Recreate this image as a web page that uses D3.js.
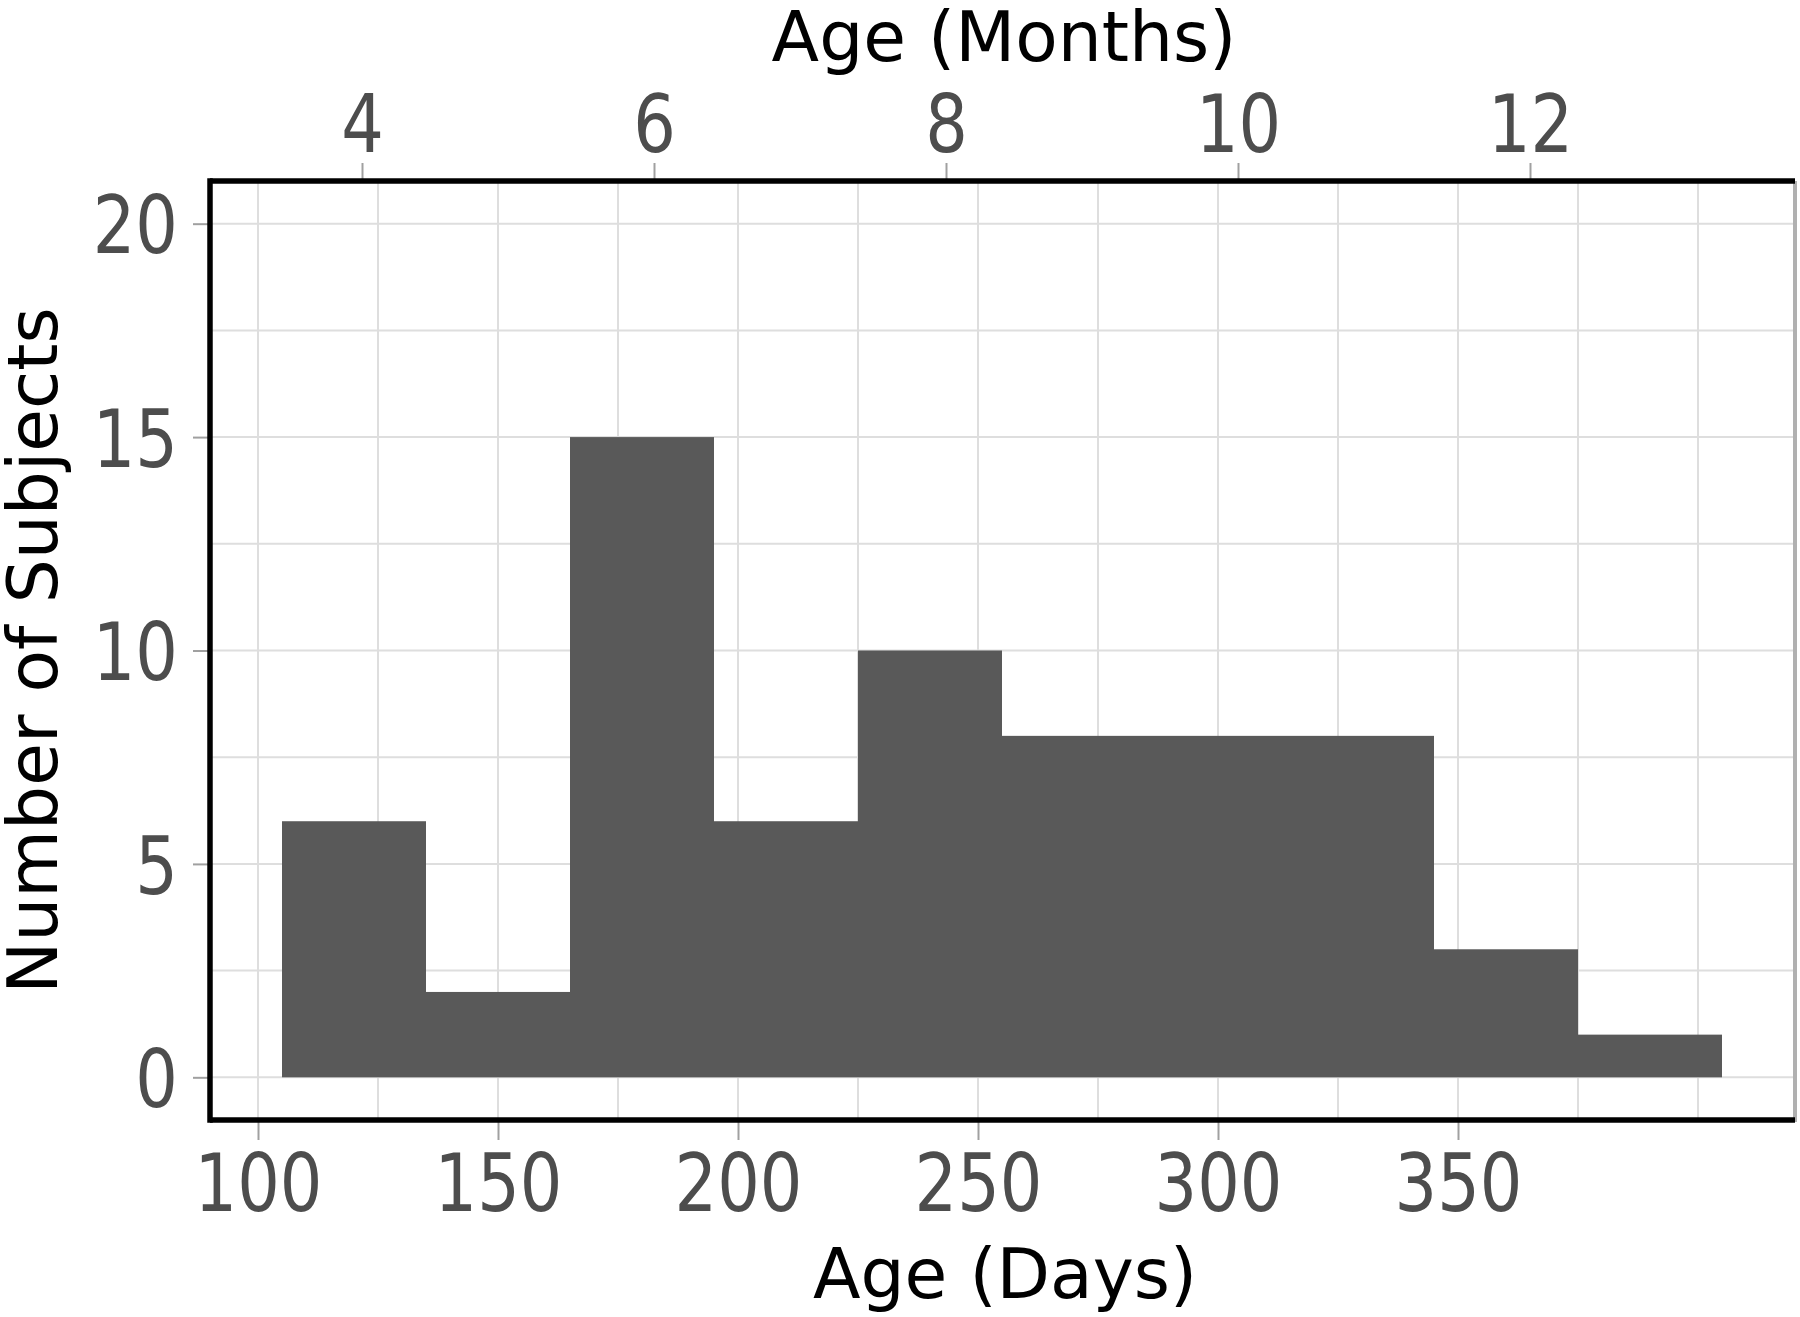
<!DOCTYPE html>
<html>
<head>
<meta charset="utf-8">
<script src="https://cdn.jsdelivr.net/npm/d3@7"></script>
<style>
  html, body { margin: 0; padding: 0; background: #fff; }
  svg { display: block; }
  .tl { font-family: "DejaVu Sans", sans-serif; font-size: 67px; fill: #4d4d4d;
        transform-box: fill-box; transform-origin: center; transform: scaleY(1.2); }
  .title { font-family: "DejaVu Sans", sans-serif; font-size: 69.5px; fill: #000; }
</style>
</head>
<body>
<script>
// ---- data ----
const binStarts = [105, 135, 165, 195, 225, 255, 285, 315, 345, 375];
const binWidth = 30;
const counts = [6, 2, 15, 6, 10, 8, 8, 8, 3, 1];
const dayTicks = [100, 150, 200, 250, 300, 350];
const dayGrid = [100, 125, 150, 175, 200, 225, 250, 275, 300, 325, 350, 375, 400];
const monthTicks = [4, 6, 8, 10, 12];
const countTicks = [0, 5, 10, 15, 20];
const countGrid = [0, 2.5, 5, 7.5, 10, 12.5, 15, 17.5, 20];
const daysPerMonth = 365 / 12;

const W = 1800, H = 1317;
const pL = 210, pR = 1794, pT = 181, pB = 1120;

const svg = d3.select("body").append("svg").attr("width", W).attr("height", H);

const x = d3.scaleLinear().domain([90, 420]).range([pL, pR]);
const xm = d3.scaleLinear().domain([90 / daysPerMonth, 420 / daysPerMonth]).range([pL, pR]);
const y = d3.scaleLinear().domain([-1, 21]).range([pB, pT]);

// gridlines
const grid = svg.append("g");
grid.selectAll("line.vx").data(dayGrid).enter().append("line")
  .attr("x1", d => x(d)).attr("x2", d => x(d))
  .attr("y1", pT).attr("y2", pB)
  .attr("stroke", "#dedede").attr("stroke-width", 2);
grid.selectAll("line.hy").data(countGrid).enter().append("line")
  .attr("x1", pL).attr("x2", pR)
  .attr("y1", d => y(d)).attr("y2", d => y(d))
  .attr("stroke", "#dedede").attr("stroke-width", 2);

// bars
svg.append("g").selectAll("rect").data(counts).enter().append("rect")
  .attr("x", (d, i) => x(binStarts[i]))
  .attr("width", (d, i) => x(binStarts[i] + binWidth) - x(binStarts[i]))
  .attr("y", d => y(d))
  .attr("height", d => y(0) - y(d))
  .attr("fill", "#595959");

// axes
function styleAxis(g) {
  g.select(".domain").remove();
  g.selectAll(".tick line").attr("stroke", "#a0a0a0").attr("stroke-width", 2);
  g.selectAll(".tick text").attr("class", "tl").attr("font-size", null).attr("font-family", null).attr("fill", null);
  g.attr("font-size", null).attr("font-family", null);
}

const gb = svg.append("g").attr("transform", `translate(0,${pB})`)
  .call(d3.axisBottom(x).tickValues(dayTicks).tickFormat(d3.format("d")).tickSize(20).tickSizeOuter(0));
styleAxis(gb);
gb.selectAll(".tick text").attr("y", 86).attr("dy", null);

const gt = svg.append("g").attr("transform", `translate(0,${pT})`)
  .call(d3.axisTop(xm).tickValues(monthTicks).tickFormat(d3.format("d")).tickSize(18).tickSizeOuter(0));
styleAxis(gt);
gt.selectAll(".tick text").attr("y", -34).attr("dy", null);

const gl = svg.append("g").attr("transform", `translate(${pL},0)`)
  .call(d3.axisLeft(y).tickValues(countTicks).tickFormat(d3.format("d")).tickSize(17).tickSizeOuter(0));
styleAxis(gl);
gl.selectAll(".tick text").attr("x", -32).attr("dy", "0.3645em");

// panel borders
svg.append("line").attr("x1", pR + 1).attr("x2", pR + 1).attr("y1", pT).attr("y2", pB + 2)
  .attr("stroke", "#b0b0b0").attr("stroke-width", 4);
const bw = 5.5;
svg.append("line").attr("x1", pL).attr("x2", pR + 1).attr("y1", pT).attr("y2", pT)
  .attr("stroke", "#000").attr("stroke-width", bw);
svg.append("line").attr("x1", pL).attr("x2", pR + 1).attr("y1", pB).attr("y2", pB)
  .attr("stroke", "#000").attr("stroke-width", bw);
svg.append("line").attr("x1", pL).attr("x2", pL).attr("y1", pT - bw / 2).attr("y2", pB + bw / 2)
  .attr("stroke", "#000").attr("stroke-width", bw);

// titles
svg.append("text").attr("class", "title").attr("x", (pL + pR) / 2 + 2).attr("y", 61)
  .attr("text-anchor", "middle").text("Age (Months)");
svg.append("text").attr("class", "title").attr("x", (pL + pR) / 2 + 3).attr("y", 1298)
  .attr("text-anchor", "middle").text("Age (Days)");
svg.append("text").attr("class", "title")
  .attr("transform", `translate(57,${(pT + pB) / 2}) rotate(-90)`)
  .attr("text-anchor", "middle").text("Number of Subjects");
</script>
</body>
</html>
